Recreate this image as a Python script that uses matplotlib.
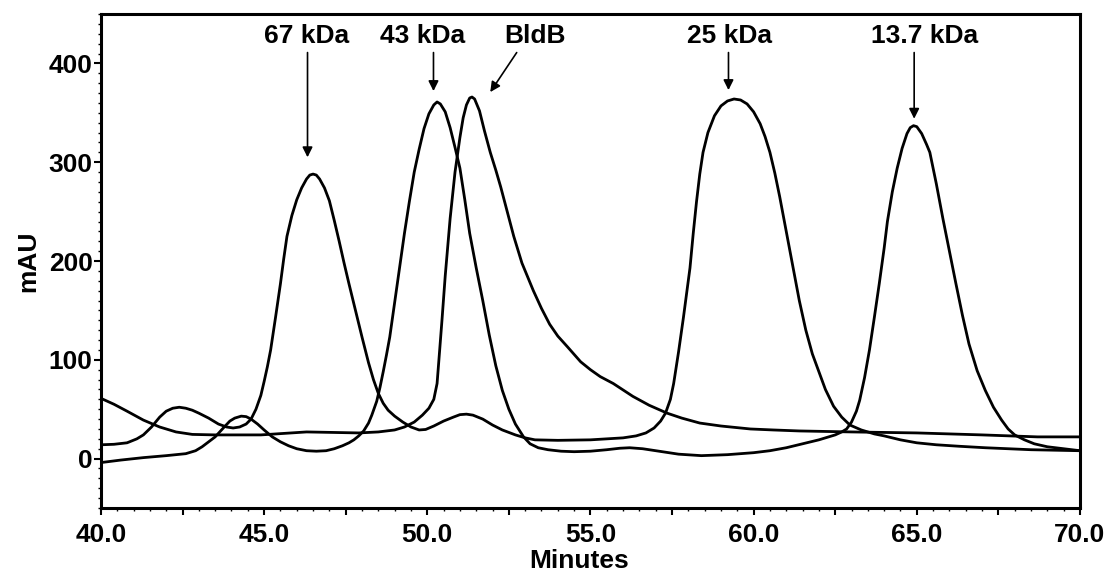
import matplotlib.pyplot as plt
from matplotlib.ticker import MultipleLocator, FuncFormatter

plt.rcParams['font.family'] = ['Liberation Sans', 'DejaVu Sans']
plt.rcParams['font.weight'] = 'bold'

# Run 1: 67 kDa + 25 kDa standards
t_run1 = [40.0, 40.4, 40.8, 41.1, 41.3, 41.55, 41.8, 42.0, 42.2, 42.4, 42.6, 42.8,
          43.0, 43.3, 43.6, 43.85, 44.05, 44.25, 44.45, 44.6, 44.75, 44.9, 45.0,
          45.1, 45.2, 45.35, 45.5, 45.6, 45.7, 45.85, 46.0, 46.15, 46.3, 46.4,
          46.5, 46.6, 46.7, 46.85, 47.0, 47.15, 47.3, 47.45, 47.6, 47.8, 48.0,
          48.2, 48.35, 48.5, 48.65, 48.8, 49.0, 49.25, 49.5, 49.75, 49.95, 50.2,
          50.5, 50.8, 51.0, 51.2, 51.4, 51.7, 52.0, 52.3, 52.7, 53.0, 53.3, 54.0,
          55.0, 56.0, 56.4, 56.7, 56.95, 57.15, 57.3, 57.45, 57.55, 57.7, 57.85,
          57.95, 58.05, 58.15, 58.25, 58.35, 58.45, 58.6, 58.8, 59.0, 59.2, 59.4,
          59.6, 59.8, 60.0, 60.2, 60.35, 60.5, 60.65, 60.8, 61.0, 61.2, 61.4,
          61.6, 61.8, 62.0, 62.2, 62.45, 62.7, 62.95, 63.3, 63.7, 64.0, 64.5,
          65.0, 65.6, 66.3, 67.1, 68.5, 70.0]
mau_run1 = [14, 14.5, 16, 20, 24, 32, 42, 48, 51, 52, 51, 49,
            46, 41, 35, 32, 31, 32, 35, 40, 50, 64, 78,
            93, 110, 143, 177, 202, 225, 246, 262, 274, 283, 287,
            288, 287, 283, 274, 261, 241, 220, 198, 177, 150, 123,
            97, 80, 66, 56, 49, 43, 37, 32, 29, 29.5, 33,
            38, 42, 44.5, 45, 44, 40, 34, 29, 24, 21, 19, 18.5,
            19, 21, 23, 26, 31, 38, 46, 60, 76, 108, 143,
            168, 193, 228, 260, 288, 310, 330, 347, 357, 362, 364,
            363, 359, 351, 339, 326, 310, 289, 265, 230, 195, 160,
            130, 106, 88, 70, 53, 42, 34, 29, 25, 23, 19,
            16, 14, 12.5, 11, 9, 8]

# Run 2: 43 kDa + 13.7 kDa standards
t_run2 = [40.0, 40.6, 41.3, 42.0, 42.6, 42.9, 43.1, 43.3, 43.5, 43.75, 43.95, 44.1,
          44.3, 44.45, 44.6, 44.8, 45.0, 45.25, 45.5, 45.75, 46.0, 46.3, 46.6,
          46.9, 47.15, 47.4, 47.6, 47.75, 47.9, 48.05, 48.2, 48.3, 48.45, 48.55,
          48.65, 48.75, 48.85, 49.0, 49.15, 49.3, 49.45, 49.6, 49.75, 49.9, 50.05,
          50.2, 50.3, 50.4, 50.55, 50.7, 50.85, 51.0, 51.15, 51.3, 51.5, 51.7,
          51.9, 52.1, 52.3, 52.5, 52.7, 52.95, 53.15, 53.4, 53.7, 54.1, 54.5,
          55.0, 55.5, 55.9, 56.2, 56.6, 57.0, 57.7, 58.4, 59.2, 60.0, 60.5, 61.0,
          61.5, 62.0, 62.5, 62.7, 62.85, 63.0, 63.15, 63.25, 63.4, 63.55, 63.7,
          63.85, 64.0, 64.1, 64.25, 64.4, 64.55, 64.7, 64.8, 64.9, 65.0, 65.15,
          65.3, 65.4, 65.6, 65.8, 66.0, 66.2, 66.4, 66.6, 66.85, 67.1, 67.35,
          67.6, 67.8, 68.0, 68.3, 68.6, 69.0, 69.5, 70.0]
mau_run2 = [-4, -1.5, 1, 3, 5, 8, 12, 17, 22, 31, 38, 41,
            43, 42.5, 40, 35, 29, 22, 17, 13, 10, 8, 7.5,
            8, 10, 13, 16, 19, 23, 28, 36, 44, 58, 72,
            88, 105, 123, 158, 193, 228, 260, 290, 313, 334, 349,
            358, 361, 359, 351, 335, 315, 294, 262, 228, 193, 160,
            125, 94, 69, 50, 35, 22, 15, 11, 9, 7.5, 7,
            7.5, 9, 10.5, 11, 10, 8, 4.5, 3, 4, 6, 8, 11,
            15, 19, 24, 27, 30, 37, 48, 59, 82, 110, 143,
            177, 213, 240, 270, 294, 314, 329, 335, 337, 336, 329,
            318, 310, 278, 243, 210, 177, 145, 116, 89, 69, 52,
            39, 30, 24, 19, 15, 12, 10, 8]

# Run 3: BldB
t_bldb = [40.0, 40.4, 40.8, 41.3, 41.8, 42.3, 42.8, 43.5, 44.9, 46.3, 47.9, 48.5,
          49.0, 49.3, 49.6, 49.85, 50.05, 50.2, 50.3, 50.38, 50.45, 50.55, 50.7,
          50.85, 51.0, 51.1, 51.2, 51.3, 51.37, 51.45, 51.6, 51.75, 51.93, 52.1,
          52.25, 52.45, 52.65, 52.9, 53.25, 53.5, 53.75, 54.0, 54.3, 54.7, 55.0,
          55.3, 55.7, 56.3, 56.8, 57.35, 57.8, 58.35, 59.0, 59.9, 60.6, 61.4,
          63.0, 65.0, 67.0, 68.7, 70.0]
mau_bldb = [61, 55, 48, 39, 32, 27, 24.5, 24, 24, 27, 26, 27,
            29, 32, 37, 44, 51, 60, 76, 110, 140, 185, 243,
            290, 325, 345, 358, 365, 366, 364, 352, 332, 310, 292,
            275, 250, 225, 198, 170, 152, 136, 124, 113, 98, 90,
            83, 76, 63, 54, 46, 41, 36, 33, 30, 29, 28,
            27, 26, 24, 22, 22]

# Peak labels and arrows
peak_labels = ["67 kDa", "43 kDa", "BldB", "25 kDa", "13.7 kDa"]
label_x = [46.3, 49.85, 53.3, 59.25, 65.25]
arrow_from_x = [46.33, 50.19, 52.74, 59.23, 64.92]
arrow_to_x = [46.33, 50.19, 51.93, 59.23, 64.92]
arrow_to_y = [305, 372, 371, 373, 344]

fig = plt.figure(figsize=(11.13, 5.75), dpi=100)
ax = fig.add_axes([0.0907, 0.1165, 0.8796, 0.8591])

for t, v in [(t_run1, mau_run1), (t_run2, mau_run2), (t_bldb, mau_bldb)]:
    ax.plot(t, v, color='black', lw=2.0, solid_joinstyle='round')

for lab, lx, fx, tx, ty in zip(peak_labels, label_x, arrow_from_x, arrow_to_x, arrow_to_y):
    ax.text(lx, 428, lab, ha='center', va='center', fontsize=19, fontweight='bold')
    ax.annotate('', xy=(tx, ty), xytext=(fx, 411),
                arrowprops=dict(arrowstyle='-|>', color='black', lw=1.2,
                                mutation_scale=15, shrinkA=0, shrinkB=0))

ax.set_xlim(40, 70)
ax.set_ylim(-50, 450)

ax.xaxis.set_major_locator(MultipleLocator(2.5))
ax.xaxis.set_major_formatter(FuncFormatter(lambda v, p: f"{v:.1f}" if abs(v % 5) < 1e-6 else ""))
ax.xaxis.set_minor_locator(MultipleLocator(0.5))
ax.yaxis.set_major_locator(MultipleLocator(100))
ax.yaxis.set_minor_locator(MultipleLocator(10))

ax.tick_params(axis='both', which='major', direction='out', length=5, width=1.5,
               labelsize=19)
ax.tick_params(axis='both', which='minor', direction='out', length=2.5, width=1.0)
ax.tick_params(axis='x', which='major', pad=6)
ax.tick_params(axis='y', which='major', pad=1)
for lab in ax.get_xticklabels() + ax.get_yticklabels():
    lab.set_fontweight('bold')

for s in ax.spines.values():
    s.set_linewidth(2.2)

ax.set_xlabel("Minutes", fontsize=19, fontweight='bold')
ax.xaxis.set_label_coords(0.488, -0.082)
ax.set_ylabel("mAU", fontsize=19, fontweight='bold', labelpad=6)

plt.savefig("out.png", dpi=100)
